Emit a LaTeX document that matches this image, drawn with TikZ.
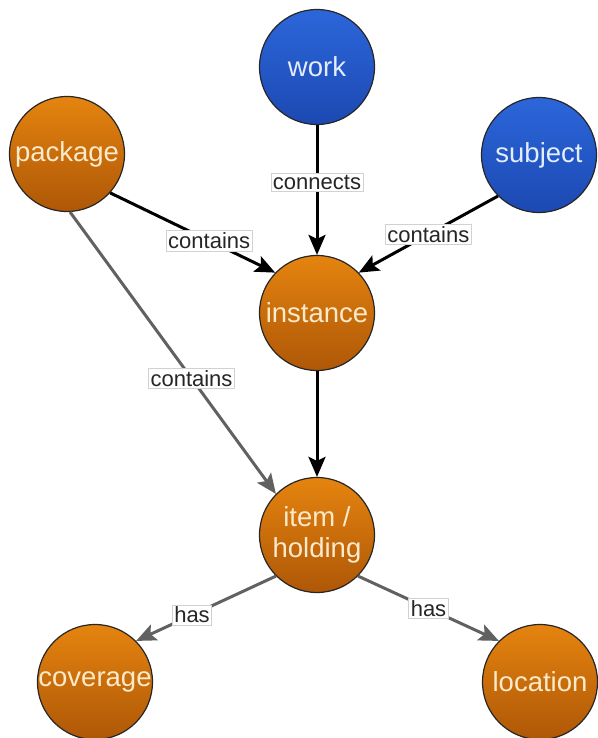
\documentclass[tikz,border=0pt]{standalone}
\usepackage{fontspec}
\setmainfont{Liberation Sans}
\usetikzlibrary{arrows.meta}
\definecolor{orangetop}{HTML}{E5840F}
\definecolor{orangebot}{HTML}{AE5707}
\definecolor{bluetop}{HTML}{2C66DA}
\definecolor{bluebot}{HTML}{1C49B2}
\definecolor{cream}{HTML}{FBEACB}
\definecolor{paleblue}{HTML}{E2EDFF}
\begin{document}
\begin{tikzpicture}[x=1pt,y=-1pt,
orange node/.style={circle,draw=black!85,line width=1.2pt,minimum size=115pt,inner sep=0pt,
  top color=orangetop,bottom color=orangebot,text=cream,align=center,
  font=\fontsize{27.5}{31}\selectfont},
blue node/.style={orange node,top color=bluetop,bottom color=bluebot,text=paleblue},
rel/.style={fill=white,draw=black!18,line width=.6pt,inner sep=2pt,text=black!85,
  font=\fontsize{22}{25}\selectfont},
link/.style={line width=3pt,-{Stealth[length=20pt,width=17pt,inset=4pt]}},
soft link/.style={link,draw=black!62}]
\useasboundingbox (0,0) rectangle (597,738);
% the nodes
\node[blue node] (work) at (317,67) {work};
\node[orange node] (package) at (67,154) {package};
\node[blue node] (subject) at (539,155) {subject};
\node[orange node] (instance) at (317,313) {instance};
\node[orange node] (item) at (317,535) {item /\\holding};
\node[orange node] (coverage) at (95,682) {coverage};
\node[orange node] (location) at (540,682) {location};

% the links
\draw [link] (package.-42) -- node[rel,pos=.6] (pc) {contains} (instance.136);
\draw [link] (work) -- node[rel,pos=.44] (wc) {connects} (instance);
\draw [link] (subject.225) -- node[rel,pos=.5] (sc) {contains} (instance.44);
\draw [link] (instance) -- (item);
\draw [soft link] (package.-87) -- node[rel,pos=.59] (pi) {contains} (item.135);
\draw [soft link] (item.225) -- node[rel,pos=.6] (hc) {has} (coverage.45);
\draw [soft link] (item.-45) -- node[rel,pos=.5] (hl) {has} (location.135);
\end{tikzpicture}
\end{document}
